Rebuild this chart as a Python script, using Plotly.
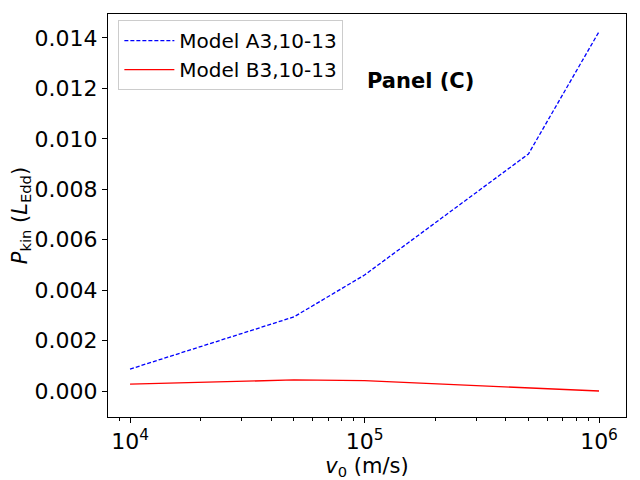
import plotly.graph_objects as go

v0 = [1e4, 5e4, 1e5, 5e5, 1e6]
model_a = [0.00087, 0.00294, 0.0046, 0.0094, 0.01425]
model_b = [0.00027, 0.00044, 0.00041, 0.00011, 0.0]

x_tickvals = [1e4, 1e5, 1e6]
x_ticktext = ["10<sup>4</sup>", "10<sup>5</sup>", "10<sup>6</sup>"]
x_minor = [m * 10 ** e for e in (3, 4, 5, 6) for m in range(2, 10)]
y_tickvals = [0.0, 0.002, 0.004, 0.006, 0.008, 0.010, 0.012, 0.014]

fig = go.Figure()
fig.add_trace(go.Scatter(x=v0, y=model_a, mode="lines", name="Model A3,10-13",
                         line=dict(color="blue", width=1.3, dash="4px,2px")))
fig.add_trace(go.Scatter(x=v0, y=model_b, mode="lines", name="Model B3,10-13",
                         line=dict(color="red", width=1.3)))

fig.add_annotation(x=5.0, y=0.0123, xref="x", yref="y", text="<b>Panel (C)</b>",
                   showarrow=False, xanchor="left", yanchor="middle",
                   font=dict(size=21, color="black"))

axis_common = dict(showline=True, linecolor="black", linewidth=1, mirror=True,
                   showgrid=False, zeroline=False, ticks="outside", ticklen=5,
                   tickcolor="black", tickfont=dict(size=22, color="black"),
                   automargin=False)

# page body adds an 8px offset, so the figure is a bit smaller than the window
fig.update_layout(
    width=632, height=472,
    margin=dict(l=100, r=14, t=6, b=63),
    paper_bgcolor="white", plot_bgcolor="white",
    font=dict(family="DejaVu Sans", color="black"),
    xaxis=dict(type="log", range=[3.906, 6.115], tickvals=x_tickvals, ticktext=x_ticktext,
               title=dict(text="<i>v</i><sub>0</sub> (m/s)", font=dict(size=21), standoff=4),
               minor=dict(ticks="outside", ticklen=3, tickcolor="black", tickvals=x_minor),
               **axis_common),
    yaxis=dict(range=[-0.00103, 0.01495], tickvals=y_tickvals, tickformat=".3f",
               title=dict(text="<i>P</i><sub>kin</sub> (<i>L</i><sub>Edd</sub>)", font=dict(size=21), standoff=6),
               **axis_common),
    legend=dict(x=0.02, y=0.985, xanchor="left", yanchor="top", font=dict(size=20),
                itemwidth=50,
                bgcolor="rgba(255,255,255,0.8)", bordercolor="#cccccc", borderwidth=1),
)

fig.write_html("out.html")
